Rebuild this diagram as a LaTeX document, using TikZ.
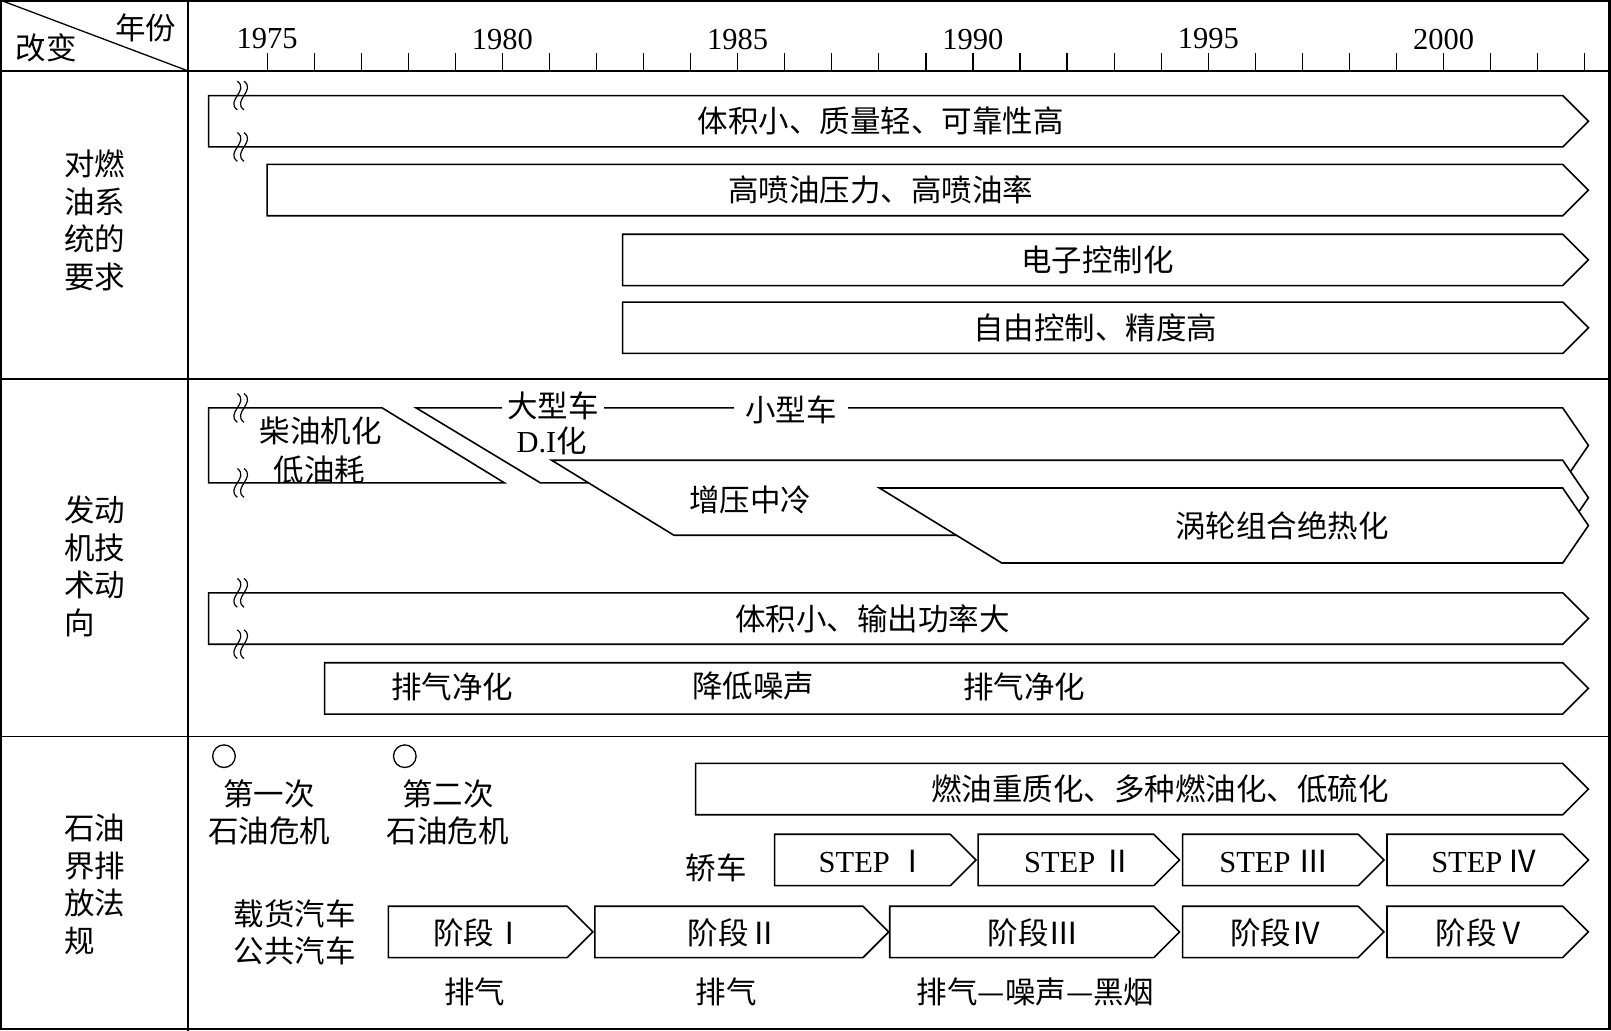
\documentclass[tikz,border=0pt]{standalone}
\usepackage{fontspec}
\setmainfont{Liberation Serif}
\newfontfamily\cjk{Noto Sans CJK SC}
\newcommand\fs{\fontsize{30.5}{37.5}\selectfont}
\tikzset{
 txt/.style={font=\cjk\fs, inner sep=0pt, align=center},
 lat/.style={font=\rmfamily\fs, inner sep=0pt},
 bar/.style={draw, fill=white, line width=1.6pt, line join=miter},
 brkline/.style={line width=1.2pt},
 ring/.style={circle, draw, line width=1.3pt, minimum size=22.6pt, inner sep=0pt},
}
\newcommand\pbar[4]{\filldraw[bar] (#1,#3) -- ({#2-25},#3) -- (#2,{(#3+#4)/2}) -- ({#2-25},#4) -- (#1,#4) -- cycle;}
\newcommand\brkmark[1]{%
 \foreach \bx in {231,237.5}{\draw[brkline] (\bx,{#1-14}) .. controls ({\bx+12},{#1-5}) and ({\bx-12},{#1+5}) .. (\bx,{#1+14});}}
\begin{document}
\begin{tikzpicture}[x=1.0274pt,y=-1.0274pt]
\useasboundingbox (0,0) rectangle (1568,1003);
% table frame
\draw[line width=2.5pt] (1.2,1.2) rectangle (1566.5,1001.5);
\draw[line width=2pt] (0,69) -- (1568,69);
\draw[line width=2pt] (183,0) -- (183,1003);
\draw[line width=1.5pt] (0,369) -- (1568,369);
\draw[line width=1.5pt] (0,717) -- (1568,717);
\draw[line width=1.3pt] (0,0) -- (183,69);
\node[txt] (hy) at (142,27) {年份};
\node[txt] (hc) at (45,47) {改变};
% axis
\foreach \k in {0,...,28} \draw[line width=1.2pt] ({260+45.8*\k},52) -- ({260+45.8*\k},69);
\foreach \yr [count=\i from 0] in {1975,1980,1985,1990,1995,2000}
  \node[lat] (y\yr) at ({260+229*\i},38) {\yr};
% left labels
\node[txt, align=left] (L1) at (92,214.5) {对燃\\油系\\统的\\要求};
\node[txt, align=left] (L2) at (92,551) {发动\\机技\\术动\\向};
\node[txt, align=left] (L3) at (92,861) {石油\\界排\\放法\\规};
% section 1
\pbar{203}{1546}{93}{143}
\brkmark{93}\brkmark{143}
\node[txt] (t1) at (857,118) {体积小、质量轻、可靠性高};
\pbar{260}{1546}{160}{210}
\node[txt] (t2) at (857,185) {高喷油压力、高喷油率};
\pbar{606}{1546}{228}{278}
\node[txt] (t3) at (1068,253) {电子控制化};
\pbar{606}{1546}{294}{344}
\node[txt] (t4) at (1066,319) {自由控制、精度高};
% section 2
\filldraw[bar] (203,397) -- (372,397) -- (491,470) -- (203,470) -- cycle;
\brkmark{397}\brkmark{470}
\node[txt] (a1) at (312,419) {柴油机化};
\node[txt] (a2) at (311,457) {低油耗};
\filldraw[bar] (405,397) -- (1521,397) -- (1546,433.5) -- (1521,470) -- (526,470) -- cycle;
\node[txt, fill=white, inner xsep=5pt] (b1) at (538,395) {大型车};
\node[txt, fill=white, inner xsep=11pt] (b2) at (770,399) {小型车};
\node[txt] (b3) at (537,429) {{\rmfamily D.I}化};
\filldraw[bar] (537,448) -- (1521,448) -- (1546,484.5) -- (1521,521) -- (656,521) -- cycle;
\node[txt] (c1) at (730,487) {增压中冷};
\filldraw[bar] (856,475) -- (1521,475) -- (1546,511.5) -- (1521,548) -- (975,548) -- cycle;
\node[txt] (c2) at (1248,512) {涡轮组合绝热化};
\pbar{203}{1546}{577}{627}
\brkmark{577}\brkmark{627}
\node[txt] (d1) at (849,602) {体积小、输出功率大};
\pbar{316}{1546}{645}{695}
\node[txt] (e1) at (440,669) {排气净化};
\node[txt] (e2) at (733,668) {降低噪声};
\node[txt] (e3) at (997,669) {排气净化};
% section 3
\node[ring] (o1) at (218,736) {};
\node[ring] (o2) at (394,736) {};
\node[txt] (k1) at (262,773) {第一次};
\node[txt] (k2) at (262,809) {石油危机};
\node[txt] (k3) at (436,773) {第二次};
\node[txt] (k4) at (436,809) {石油危机};
\pbar{677}{1546}{743}{793}
\node[txt] (f1) at (1129,768) {燃油重质化、多种燃油化、低硫化};
\node[txt] (jc) at (697,845) {轿车};
\pbar{754}{950}{812}{862}
\pbar{952}{1148}{812}{862}
\pbar{1151}{1347}{812}{862}
\pbar{1350}{1546}{812}{862}
\node[txt] (s1) at (850,838) {{\rmfamily STEP }Ⅰ};
\node[txt] (s2) at (1050,838) {{\rmfamily STEP }Ⅱ};
\node[txt] (s3) at (1240,838) {{\rmfamily STEP }Ⅲ};
\node[txt] (s4) at (1445,838) {{\rmfamily STEP\,}Ⅳ};
\node[txt] (h1) at (287,889) {载货汽车};
\node[txt] (h2) at (287,925) {公共汽车};
\pbar{378}{577}{882}{932}
\pbar{579}{865}{882}{932}
\pbar{866}{1148}{882}{932}
\pbar{1151}{1347}{882}{932}
\pbar{1350}{1546}{882}{932}
\node[txt] (g1) at (466,908) {阶段Ⅰ};
\node[txt] (g2) at (714,908) {阶段Ⅱ};
\node[txt] (g3) at (1006,908) {阶段Ⅲ};
\node[txt] (g4) at (1242,908) {阶段Ⅳ};
\node[txt] (g5) at (1442,908) {阶段Ⅴ};
\node[txt] (p1) at (462,965) {排气};
\node[txt] (p2) at (707,965) {排气};
\node[txt] (p3) at (1008,965) {排气—噪声—黑烟};
\end{tikzpicture}
\end{document}
